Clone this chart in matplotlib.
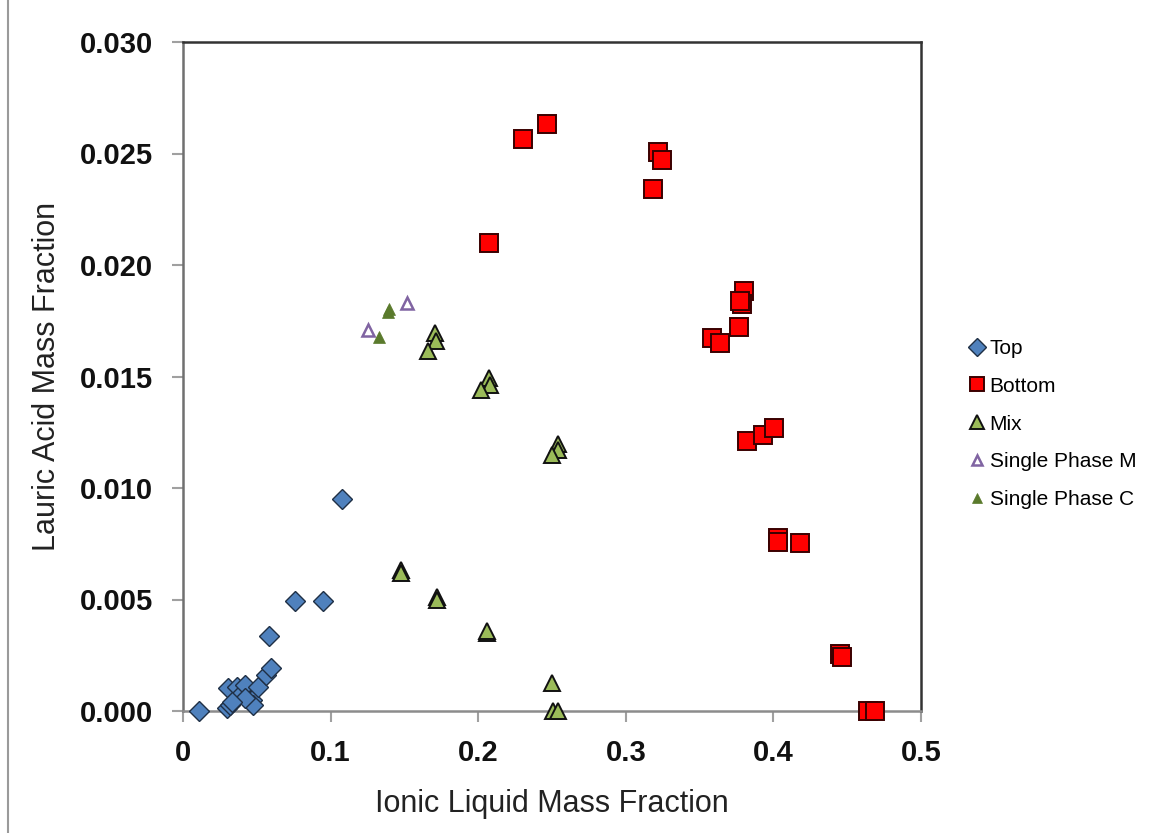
import matplotlib
matplotlib.use("Agg")
import matplotlib.pyplot as plt
from matplotlib.lines import Line2D

plt.rcParams['font.family'] = ['Liberation Sans', 'DejaVu Sans']

# ---- data ----
top_x = [0.0108, 0.0296, 0.0318, 0.0307, 0.0364, 0.0398, 0.0420, 0.0465, 0.0477,
         0.0510, 0.0562, 0.0594, 0.0585, 0.0759, 0.0946, 0.1077, 0.0420, 0.0330]
top_y = [0.0000, 0.00012, 0.00027, 0.00102, 0.00109, 0.00080, 0.00117, 0.00049, 0.00027,
         0.00109, 0.00161, 0.00191, 0.00336, 0.00493, 0.00493, 0.00950, 0.00060, 0.00040]

bot_x = [0.2073, 0.2306, 0.2464, 0.3220, 0.3243, 0.3186, 0.3801, 0.3785, 0.3775,
         0.3767, 0.3582, 0.3638, 0.3823, 0.3932, 0.4004, 0.4033, 0.4033, 0.4180,
         0.4451, 0.4463, 0.4643, 0.4688]
bot_y = [0.02099, 0.02564, 0.02632, 0.02505, 0.02471, 0.02339, 0.01885, 0.01825, 0.01840,
         0.01723, 0.01671, 0.01648, 0.01212, 0.01238, 0.01270, 0.00777, 0.00757, 0.00755,
         0.00254, 0.00244, 0.00000, 0.00000]

mix_x = [0.1707, 0.1714, 0.1662, 0.2075, 0.2080, 0.2019, 0.2543, 0.2543, 0.2498,
         0.1475, 0.1475, 0.1723, 0.1723, 0.2062, 0.2062, 0.2498, 0.2509, 0.2543]
mix_y = [0.01694, 0.01660, 0.01616, 0.01492, 0.01462, 0.01440, 0.01197, 0.01170, 0.01148,
         0.00632, 0.00617, 0.00513, 0.00498, 0.00348, 0.00358, 0.00124, 0.00000, 0.00000]

spm_x = [0.1515, 0.1256]
spm_y = [0.01828, 0.01709]

spc_x = [0.1398, 0.1390, 0.1330]
spc_y = [0.01801, 0.01790, 0.01679]

xticks = [0, 0.1, 0.2, 0.3, 0.4, 0.5]
xticklabels = ['0', '0.1', '0.2', '0.3', '0.4', '0.5']
yticks = [0.000, 0.005, 0.010, 0.015, 0.020, 0.025, 0.030]
yticklabels = ['0.000', '0.005', '0.010', '0.015', '0.020', '0.025', '0.030']

# ---- figure ----
fig = plt.figure(figsize=(11.49, 8.33), dpi=100)
ax = fig.add_axes([183/1149, 1-711/833, (921-183)/1149, (711-42)/833])

ax.plot(top_x, top_y, linestyle='none', marker='D', markersize=10.5,
        markerfacecolor='#4F81BD', markeredgecolor='#1F2F45', markeredgewidth=1.0,
        label='Top', clip_on=False, zorder=3)
ax.plot(bot_x, bot_y, linestyle='none', marker='s', markersize=12.5,
        markerfacecolor='#FF0000', markeredgecolor='#3A0000', markeredgewidth=1.4,
        label='Bottom', clip_on=False, zorder=3)
ax.plot(mix_x, mix_y, linestyle='none', marker='^', markersize=12,
        markerfacecolor='#9BBB59', markeredgecolor='#111111', markeredgewidth=1.4,
        label='Mix', clip_on=False, zorder=3)
ax.plot(spm_x, spm_y, linestyle='none', marker='^', markersize=8.5,
        markerfacecolor='white', markeredgecolor='#8064A2', markeredgewidth=1.8,
        label='Single Phase M', clip_on=False, zorder=3)
ax.plot(spc_x, spc_y, linestyle='none', marker='^', markersize=9,
        markerfacecolor='#5A7A2C', markeredgecolor='#5A7A2C', markeredgewidth=0.5,
        label='Single Phase C', clip_on=False, zorder=3)

ax.set_xlim(0, 0.5)
ax.set_ylim(0, 0.030)
ax.set_xticks(xticks)
ax.set_xticklabels(xticklabels)
ax.set_yticks(yticks)
ax.set_yticklabels(yticklabels)

for lab in ax.get_xticklabels() + ax.get_yticklabels():
    lab.set_fontsize(21)
    lab.set_fontweight('bold')
    lab.set_color('#111111')

ax.tick_params(axis='both', direction='out', length=8, width=1.5, color='#A0A0A0')
ax.tick_params(axis='y', pad=13.5)
ax.tick_params(axis='x', pad=12)

for sp in ax.spines.values():
    sp.set_color('#333333')
    sp.set_linewidth(1.8)
ax.spines['bottom'].set_color('#8C8C8C')
ax.spines['left'].set_color('#707070')

ax.set_xlabel('Ionic Liquid Mass Fraction', fontsize=22, labelpad=16, color='#222222')
ax.set_ylabel('Lauric Acid Mass Fraction', fontsize=22, labelpad=13, color='#222222')

leg = fig.legend(loc='center left', bbox_to_anchor=(948/1149, 1-424/833),
                 frameon=False, fontsize=15, handletextpad=0.1, labelspacing=0.9,
                 handlelength=1.0, markerscale=0.85)

# outer chart-area border on left
fig.add_artist(Line2D([8/1149, 8/1149], [0, 1], transform=fig.transFigure,
                      color='#9A9A9A', linewidth=1.5))

fig.savefig('out.png', dpi=100)
